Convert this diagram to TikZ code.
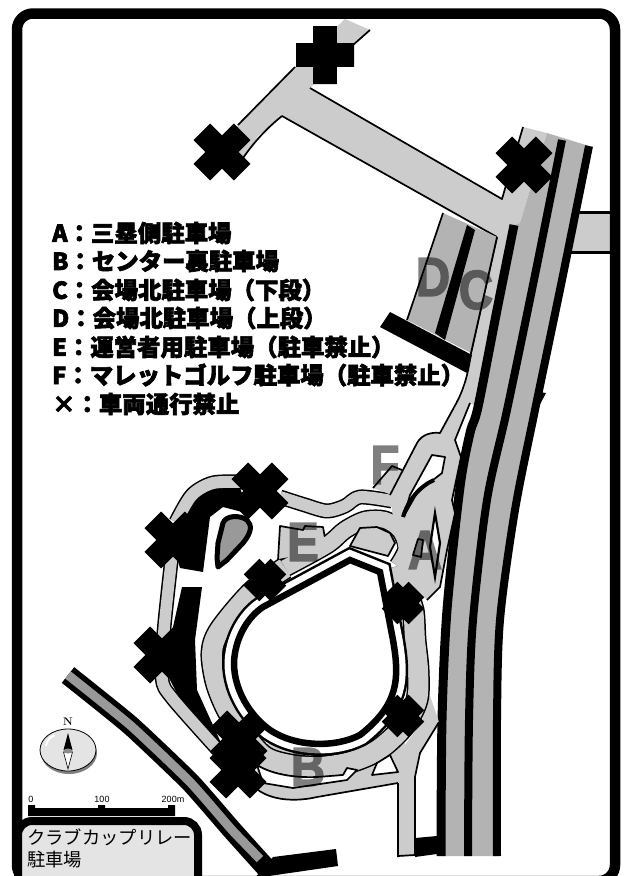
\documentclass[tikz,border=0pt]{standalone}
\usepackage{fontspec}
\setsansfont{Liberation Sans}
\newfontfamily\cjkreg{Noto Sans CJK JP}
\newfontfamily\cjkheavy[BoldFeatures={FakeBold=2.6}]{Noto Sans CJK JP}
\newfontfamily\lotfont[BoldFeatures={FakeBold=2.5},FakeStretch=0.86]{Liberation Sans}
\definecolor{rd}{HTML}{CCCCCC}
\definecolor{hw}{HTML}{B3B3B3}
\definecolor{dg}{HTML}{999999}
\definecolor{pane}{HTML}{E4E4E4}
\newcommand\mapcross[4]{\fill[black,shift={(#1,#2)},rotate=#4] (-#3,-0.41*#3) rectangle (#3,0.41*#3) (-0.41*#3,-#3) rectangle (0.41*#3,#3);}
\newcommand\smallcross[2]{\fill[black,shift={(#1,#2)},rotate=45] (-19,-11) rectangle (19,11) (-11,-19) rectangle (11,19);}
\newcommand\hwL{(514,225) (497,310) (478,407) (470,433) (460,487) (447,610) (442,720) (441,856)}
\newcommand\hwM{(562,140) (535,275) (507,410) (487,500) (473,620) (469,720) (468,856)}
\newcommand\hwR{(589,146) (562,280) (535,410) (515,510) (500,620) (497,720) (497,856)}
\newcommand\stadiumpath{(263,607) -- (350,560) -- (380,572) -- (393,640) .. controls (400,680) and (398,705) .. (360,735) .. controls (335,748) and (295,747) .. (270,730) .. controls (245,712) and (230,680) .. (235,653) .. controls (238,635) and (248,617) .. (263,607) -- cycle}
\newcommand\ringA{plot[smooth] coordinates {(285,568) (252,592) (220,630) (212,653) (217,685) (232,718) (262,755) (290,765) (320,767) (350,762) (378,750) (403,727) (417,700) (418,670) (415,640) (413,610) (405,590) (398,566)}}
\newcommand\ringB{plot[smooth] coordinates {(285,568) (327,545) (345,530) (365,520) (385,520) (400,530) (407,548) (398,566)}}
\newcommand\branchroad{plot[smooth] coordinates {(280,497) (305,505) (327,511) (345,506) (360,497) (392,501)}}
\newcommand\archroad{plot[smooth] coordinates {(176,522) (192,495) (213,483) (242,482)}}
\newcommand\leftroad{plot[smooth] coordinates {(172,555) (164,630) (162,678) (172,698) (218,750)}}
\tikzset{
  edge/.style={draw=black,line width=1.7,line join=round},
  casing/.style={draw=black,line cap=butt,line join=round},
  infill/.style={draw=rd,line cap=butt,line join=round},
  lotletter/.style={font=\lotfont\bfseries\fontsize{55}{55}\selectfont,text=black,inner sep=0},
  legendline/.style={anchor=west,inner sep=0,font=\cjkheavy\bfseries\fontsize{23.4}{24}\selectfont},
  captext/.style={anchor=west,inner sep=0,font=\cjkreg\fontsize{18.3}{19}\selectfont},
  scaletext/.style={inner sep=0,font=\sffamily\fontsize{9}{9}\selectfont}
}
\begin{document}
\begin{tikzpicture}[x=1pt,y=-1pt]
\useasboundingbox (0,0) rectangle (630,876);
\clip (0,0) rectangle (630,876);
\fill[white] (0,0) rectangle (630,876);

% diagonal road, lower left
\draw[black,line width=20,line join=round] plot[smooth,tension=.3] coordinates {(68,675) (130,725) (190,782) (232,830) (268,870)};
\draw[dg,line width=9,line join=round] plot[smooth,tension=.3] coordinates {(68,675) (130,725) (190,782) (232,830) (260,859)};
\fill[black] (273,857) -- (336,849) -- (338,866) -- (255,878) -- cycle;

% side road on the east
\fill[rd] (580,212) -- (612,212) -- (612,252) -- (570,252) -- cycle;
\draw[black,line width=3] (578,212) -- (612,212) (568,252) -- (612,252);

% north-west road
\fill[rd] (345,19) -- (370,30) -- (353,45) -- (310,88) -- (502,199) -- (523,127) -- (547,133) -- (520,223) -- (514,225) -- (497,237) -- (282,116) -- (258,136) -- (243,160) -- (222,152) -- (238,125) -- (295,67) -- cycle;
\draw[edge] (370,30) -- (353,45) (310,88) -- (502,199) -- (523,127) (497,237) -- (282,116) .. controls (262,132) and (250,148) .. (243,158) (238,125) -- (295,67);

% frontage road
\fill[rd] (497,237) -- (514,225) -- (478,407) -- (470,403) -- (457,402) -- (465,387) -- (471,353) -- cycle;
\draw[edge] (497,237) -- (471,353) .. controls (468,375) and (464,388) .. (457,402);

% lots D and C
\fill[hw] (443,213) -- (497,237) -- (471,353) -- (407,320) -- cycle;
\draw[edge] (443,213) -- (407,320) (497,237) -- (471,353);
\fill[black] (467,225) -- (475,230) -- (445,340) -- (435,333) -- cycle;
\fill[black] (390,312) -- (472,355) -- (467,373) -- (380,327) -- cycle;

% highway
\fill[hw] plot[smooth] coordinates {\hwL} -- (497,856) -- plot[smooth] coordinates {(497,720) (500,620) (515,510) (535,410) (562,280) (589,146)} -- (547,133) -- (520,223) -- cycle;
\draw[black,line width=9] plot[smooth] coordinates {\hwL};
\draw[black,line width=8] plot[smooth] coordinates {\hwM};
\draw[black,line width=8] plot[smooth] coordinates {\hwR};
\fill[black] (540,392) -- (546,393) -- (536,412) -- cycle;
\fill[black] (415,838) -- (437,836) -- (444,853) -- (415,857) -- cycle;

% black lots, west side
\fill[black] (190,510) .. controls (195,500) and (205,490) .. (220,487) -- (240,488) -- (250,514) -- (223,507) -- (210,517) -- (203,572) -- (180,568) -- (172,540) -- cycle;
\fill[black] (182,587) -- (202,587) -- (195,640) -- (197,690) -- (222,745) -- (215,755) -- (182,703) -- (170,680) -- (173,627) -- cycle;

% south zone and vertical road
\fill[rd] (255,745) -- (380,735) -- (403,730) -- (405,745) -- (398,783) -- (317,797) .. controls (300,801) and (275,802) .. (258,790) -- cycle;
\draw[edge] (258,790) .. controls (275,802) and (300,801) .. (317,797) -- (398,783);
\fill[rd] (398,783) -- (398,857) -- (415,855) -- (415,777) -- (420,753) -- (439,722) -- (428,690) -- (422,722) -- (405,745) -- (398,772) -- cycle;
\draw[edge] (398,783) -- (398,857) (415,855) -- (415,777) -- (420,753) -- (439,722);
\draw[edge] (398,856) -- (415,855);

% road network: casings first, then fills
\draw[casing,line width=23] \ringA;
\draw[casing,line width=19] \ringB;
\draw[casing,line width=15] \branchroad;
\draw[casing,line width=15] \archroad;
\draw[casing,line width=14.5] \leftroad;
\fill[rd] (280,526) -- (303,530) -- (305,526) -- (323,527) -- (325,538) -- (300,556) -- (278,560) -- cycle;
\draw[edge] (300,556) -- (278,560) -- (280,526) -- (303,530) -- (305,526) -- (323,527) -- (325,538);
\fill[rd] (373,488) -- (392,466) -- (402,470) -- (392,495) -- cycle;
\draw[edge] (373,488) -- (392,466) -- (402,470);
\draw[infill,line width=20] \ringA;
\draw[infill,line width=16] \ringB;
\draw[infill,line width=12] \branchroad;
\draw[infill,line width=12] \archroad;
\draw[infill,line width=11.5] \leftroad;

% loop and lobe by lot A
\fill[rd] (458,400) -- (470,403) -- (455,440) -- (461,457) -- (452,500) -- (455,513) -- (447,550) -- (440,587) -- (427,600) -- (405,580) -- (395,530) -- (390,497) -- (417,443) .. controls (422,434) and (432,432) .. (440,433) -- cycle;
\draw[edge] (458,400) -- (440,433) .. controls (432,432) and (422,434) .. (417,443) -- (390,495);
\draw[edge] (470,403) -- (455,440) -- (461,457) -- (452,500) -- (455,513) -- (447,550) -- (440,587) -- (427,600);

% white sliver and hook in zone B
\filldraw[fill=white,edge] (257,765) .. controls (270,773) and (290,778) .. (317,777) -- (343,775) -- (347,768) -- (357,770) -- (347,780) -- (293,788) -- (263,783) -- cycle;
\filldraw[fill=white,edge] (372,775) -- (377,763) -- (390,755) -- (398,772) -- cycle;

% bulge inside the ring
\filldraw[fill=rd,edge] (350,546) -- (360,528) -- (377,527) -- (390,533) -- (395,543) -- (388,556) -- cycle;

% stadium
\draw[black,line width=24,miter limit=10] \stadiumpath;
\draw[white,line width=19,miter limit=10] \stadiumpath;
\fill[white] \stadiumpath;
\draw[black,line width=6.5,miter limit=10] \stadiumpath;

% slits by lot A
\filldraw[fill=white,edge] (432,455) -- (445,457) -- (442,473) -- (433,480) -- (417,493) -- (404,516) -- (410,495) -- cycle;
\draw[black,line width=4] (434,480) .. controls (420,486) and (408,500) .. (403,517);
\filldraw[fill=white,draw=black,line width=2.2] (435,513) -- (440,543) -- (435,577) -- (430,547) -- cycle;
\filldraw[fill=rd,edge] (418,539) -- (423,540) -- (421,557) -- (413,555) -- cycle;

% pond
\filldraw[fill=dg,draw=black,line width=5,line join=round] (218,543) -- (223,523) .. controls (226,515) and (240,515) .. (247,520) .. controls (252,525) and (252,532) .. (243,543) -- (227,560) -- (218,567) -- (217,558) -- cycle;

% closed-road crosses
\mapcross{325}{55}{29}{0}
\mapcross{222}{152}{28.5}{45}
\mapcross{524}{165}{28.5}{45}
\mapcross{260}{491}{28.5}{45}
\mapcross{173}{540}{28.5}{45}
\mapcross{162}{655}{28.5}{45}
\smallcross{265}{580}
\smallcross{403}{603}
\smallcross{403}{716}
\mapcross{239}{739}{28.5}{45}
\mapcross{238}{770}{28.5}{45}

% lot letters
\begin{scope}[transparency group,opacity=0.5]
\node[lotletter] (lotD) at (433,277) {D};
\node[lotletter] (lotC) at (476,290) {C};
\node[lotletter] (lotF) at (385,465) {F};
\node[lotletter] (lotE) at (303,542) {E};
\node[lotletter] (lotA) at (425,550) {A};
\node[lotletter] (lotB) at (308,767) {B};
\end{scope}

% legend
\node[legendline] (legA) at (52,233) {A：三塁側駐車場};
\node[legendline] (legB) at (52,261) {B：センター裏駐車場};
\node[legendline] (legC) at (52,290) {C：会場北駐車場（下段）};
\node[legendline] (legD) at (52,318) {D：会場北駐車場（上段）};
\node[legendline] (legE) at (52,347) {E：運営者用駐車場（駐車禁止）};
\node[legendline] (legF) at (52,375) {F：マレットゴルフ駐車場（駐車禁止）};
\node[legendline] (legX) at (52,404) {×：車両通行禁止};

% compass
\fill[black!50] (69,753) ellipse [x radius=28,y radius=21];
\filldraw[fill=pane,draw=black,line width=0.8] (68,750) ellipse [x radius=28,y radius=21];
\draw[white,line width=2] (46,746) .. controls (47,740) and (50,737) .. (55,735);
\fill[black] (68,733) -- (72.5,750) -- (63.5,750) -- cycle;
\filldraw[fill=white,draw=black,line width=0.6] (63.5,752) -- (72.5,752) -- (68,769) -- cycle;
\fill[black!45] (68,751) ellipse [x radius=4.5,y radius=2.5];
\node[inner sep=0,font=\rmfamily\bfseries\fontsize{11}{11}\selectfont] (north) at (68,722) {N};

% scale bar
\fill[black] (28,808) rectangle (175,816) (28,805) rectangle (35,808) (98,805) rectangle (105,808) (168,805) rectangle (175,808);
\node[scaletext] (s0) at (31,799) {0};
\node[scaletext] (s100) at (102,799) {100};
\node[scaletext] (s200) at (173,799) {200m};

% frame and caption
\draw[black,line width=10.5,rounded corners=16] (17,13.5) rectangle (615,881);
\draw[black,fill=pane,line width=8,rounded corners=14] (18,821) rectangle (198,890);
\node[captext] (cap1) at (27,837) {クラブカップリレー};
\node[captext] (cap2) at (27,860) {駐車場};
\end{tikzpicture}
\end{document}
